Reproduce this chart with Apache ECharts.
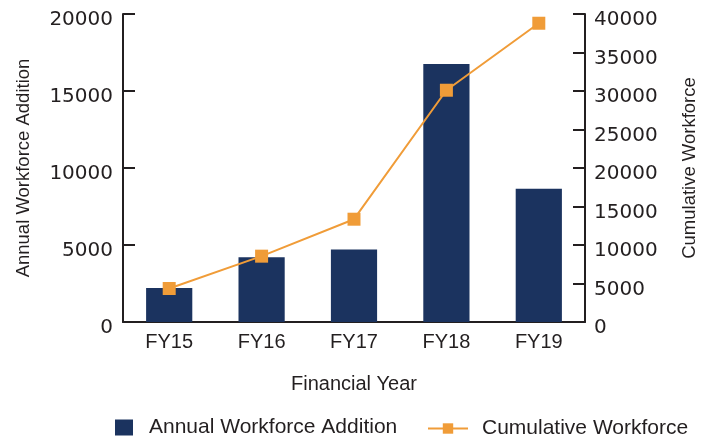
<!DOCTYPE html>
<html>
<head>
<meta charset="utf-8">
<script src="https://cdn.jsdelivr.net/npm/echarts@6/dist/echarts.min.js"></script>
<style>html,body{margin:0;padding:0;background:#fff}#c{width:709px;height:438px}</style>
</head>
<body>
<div id="c"></div>
<script>
const categories = ['FY15', 'FY16', 'FY17', 'FY18', 'FY19'];
const annualAddition = [2200, 4200, 4700, 16750, 8650];
const cumulativeWorkforce = [4350, 8550, 13350, 30100, 38800];
const leftTicks = [0, 20000, 5000];
const rightTicks = [0, 40000, 5000];

const txt = '#231f20';
const axisLineStyle = { color: '#231f20', width: 2 };
const plain = v => String(v);
const chart = echarts.init(document.getElementById('c'), null, { renderer: 'canvas' });
chart.setOption({
  animation: false,
  textStyle: { fontFamily: 'Liberation Sans', color: txt },
  grid: { left: 123, right: 124, top: 14, bottom: 116 },
  legend: [
    { data: [{ name: 'Annual Workforce Addition', icon: 'rect' }], left: 115, top: 417, padding: 0, itemWidth: 18, itemHeight: 16, itemGap: 16,
      textStyle: { fontSize: 21, color: txt, fontFamily: 'Liberation Sans', padding: [0, 0, 0, 11] } },
    { data: ['Cumulative Workforce'], left: 427, top: 418, padding: 0, itemWidth: 40, itemHeight: 13,
      textStyle: { fontSize: 21, color: txt, fontFamily: 'Liberation Sans', padding: [0, 0, 0, 9] } }
  ],
  xAxis: {
    type: 'category', data: categories,
    name: 'Financial Year', nameLocation: 'middle', nameGap: 52,
    nameTextStyle: { fontSize: 20, color: txt },
    axisLine: { lineStyle: axisLineStyle },
    axisTick: { inside: true, length: 8, lineStyle: axisLineStyle },
    axisLabel: { fontSize: 20, color: txt, margin: 10 }
  },
  yAxis: [
    { type: 'value', min: leftTicks[0], max: leftTicks[1], interval: leftTicks[2],
      name: 'Annual Workforce Addition', nameLocation: 'middle', nameRotate: 90, nameGap: 90,
      nameTextStyle: { fontSize: 18.5, color: txt },
      axisLine: { show: true, lineStyle: axisLineStyle },
      axisTick: { show: true, inside: true, length: 12, lineStyle: axisLineStyle },
      splitLine: { show: false },
      axisLabel: { fontSize: 20, color: txt, margin: 10, fontFamily: 'DejaVu Sans', formatter: plain,
        verticalAlign: 'top', lineHeight: 12 } },
    { type: 'value', min: rightTicks[0], max: rightTicks[1], interval: rightTicks[2], position: 'right',
      name: 'Cumulative Workforce', nameLocation: 'middle', nameRotate: 90, nameGap: 95,
      nameTextStyle: { fontSize: 18.5, color: txt },
      axisLine: { show: true, lineStyle: axisLineStyle },
      axisTick: { show: true, inside: true, length: 12, lineStyle: axisLineStyle },
      splitLine: { show: false },
      axisLabel: { fontSize: 20, color: txt, margin: 9, fontFamily: 'DejaVu Sans', formatter: plain,
        verticalAlign: 'top', lineHeight: 12 } }
  ],
  series: [
    { name: 'Annual Workforce Addition', type: 'bar', data: annualAddition, barWidth: '50%',
      itemStyle: { color: '#1b335f' } },
    { name: 'Cumulative Workforce', type: 'line', yAxisIndex: 1, data: cumulativeWorkforce,
      symbol: 'rect', symbolSize: 13, lineStyle: { color: '#f09c38', width: 2 },
      itemStyle: { color: '#f09c38' } }
  ]
});
</script>
</body>
</html>
